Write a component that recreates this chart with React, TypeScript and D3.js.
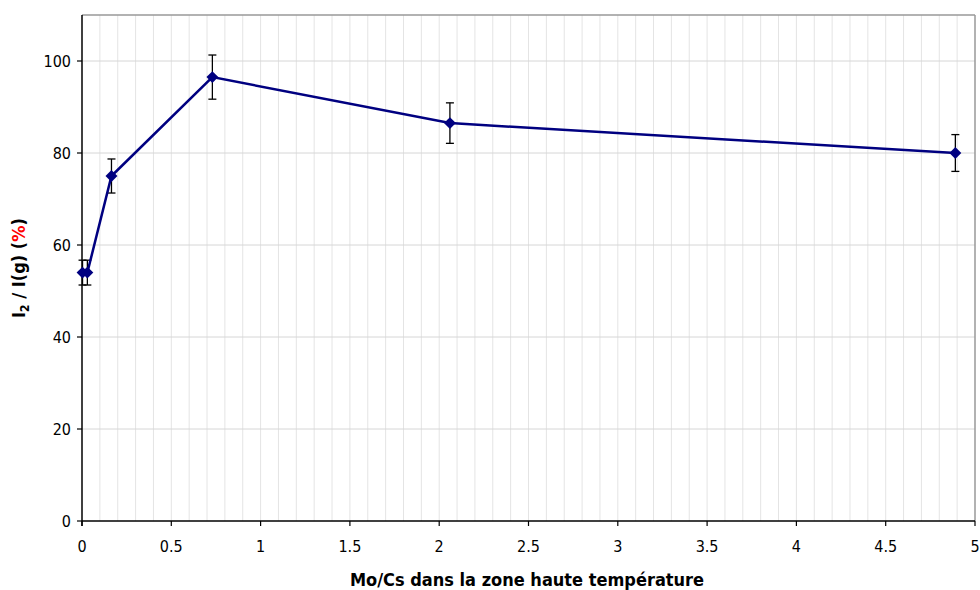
import React from "react";
import * as d3 from "d3";

const xValues = [0.003, 0.03, 0.165, 0.73, 2.06, 4.89];
const yValues = [54, 54, 75, 96.5, 86.5, 80];
const yErrors = [2.7, 2.7, 3.7, 4.8, 4.4, 4];
const xTicks = [0, 0.5, 1, 1.5, 2, 2.5, 3, 3.5, 4, 4.5, 5];
const yTicks = [0, 20, 40, 60, 80, 100];

const W = 980, H = 590;
const M = { left: 82, right: 975, top: 15, bottom: 521 };
const FONT = "'DejaVu Sans Condensed', 'DejaVu Sans', sans-serif";

export default function App() {
  const x = d3.scaleLinear().domain([0, 5]).range([M.left, M.right]);
  const y = d3.scaleLinear().domain([0, 110]).range([M.bottom, M.top]);
  const minor = d3.range(1, 50).map((i) => i / 10);
  const line = d3.line<number>().x((_, i) => x(xValues[i])).y((d) => y(d));
  const diamond = d3.symbol().type(d3.symbolDiamond2).size(90)();
  return (
    <svg width={W} height={H} style={{ position: "absolute", left: 0, top: 0 }} fontFamily={FONT}>
      <rect x={0} y={0} width={W} height={H} fill="#fff" />
      {minor.map((v) => (
        <line key={"m" + v} x1={x(v)} x2={x(v)} y1={M.top} y2={M.bottom} stroke="#e4e4e4" strokeWidth={1} />
      ))}
      {yTicks.slice(1).map((v) => (
        <line key={"h" + v} x1={M.left} x2={M.right} y1={y(v)} y2={y(v)} stroke="#d6d6d6" strokeWidth={1} />
      ))}
      <line x1={M.left} x2={M.right} y1={M.top} y2={M.top} stroke="#999" strokeWidth={1.5} />
      <line x1={M.right} x2={M.right} y1={M.top} y2={M.bottom} stroke="#999" strokeWidth={1.5} />
      <line x1={M.left} x2={M.left} y1={M.top} y2={M.bottom + 5} stroke="#000" strokeWidth={1.5} />
      <line x1={M.left} x2={M.right} y1={M.bottom} y2={M.bottom} stroke="#000" strokeWidth={1.5} />
      {xTicks.map((v) => (
        <g key={"xt" + v}>
          <line x1={x(v)} x2={x(v)} y1={M.bottom} y2={M.bottom + 5} stroke="#000" strokeWidth={1.2} />
          <text x={x(v)} y={M.bottom + 31} textAnchor="middle" fontSize={16} fill="#000">{v}</text>
        </g>
      ))}
      {yTicks.map((v) => (
        <g key={"yt" + v}>
          <line x1={M.left - 5} x2={M.left} y1={y(v)} y2={y(v)} stroke="#000" strokeWidth={1.2} />
          <text x={M.left - 11} y={y(v) + 6} textAnchor="end" fontSize={16} fill="#000">{v}</text>
        </g>
      ))}
      {yValues.map((v, i) => (
        <g key={"e" + i} stroke="#000" strokeWidth={1.3}>
          <line x1={x(xValues[i])} x2={x(xValues[i])} y1={y(v + yErrors[i])} y2={y(v - yErrors[i])} />
          <line x1={x(xValues[i]) - 4} x2={x(xValues[i]) + 4} y1={y(v + yErrors[i])} y2={y(v + yErrors[i])} />
          <line x1={x(xValues[i]) - 4} x2={x(xValues[i]) + 4} y1={y(v - yErrors[i])} y2={y(v - yErrors[i])} />
        </g>
      ))}
      <path d={line(yValues) || ""} fill="none" stroke="#000080" strokeWidth={2.5} />
      {yValues.map((v, i) => (
        <path key={"p" + i} d={diamond || ""} transform={`translate(${x(xValues[i])},${y(v)})`} fill="#000080" />
      ))}
      <text x={527} y={586} textAnchor="middle" fontSize={18} fontWeight="bold" fill="#000">
        Mo/Cs dans la zone haute température
      </text>
      <text transform={`translate(25,${268}) rotate(-90)`} textAnchor="middle" fontSize={18} fontWeight="bold" fill="#000">
        <tspan>I</tspan>
        <tspan fontSize={12} dy={4}>2</tspan>
        <tspan dy={-4}> / I(g) (</tspan>
        <tspan fill="#ff0000">%</tspan>
        <tspan>)</tspan>
      </text>
    </svg>
  );
}
